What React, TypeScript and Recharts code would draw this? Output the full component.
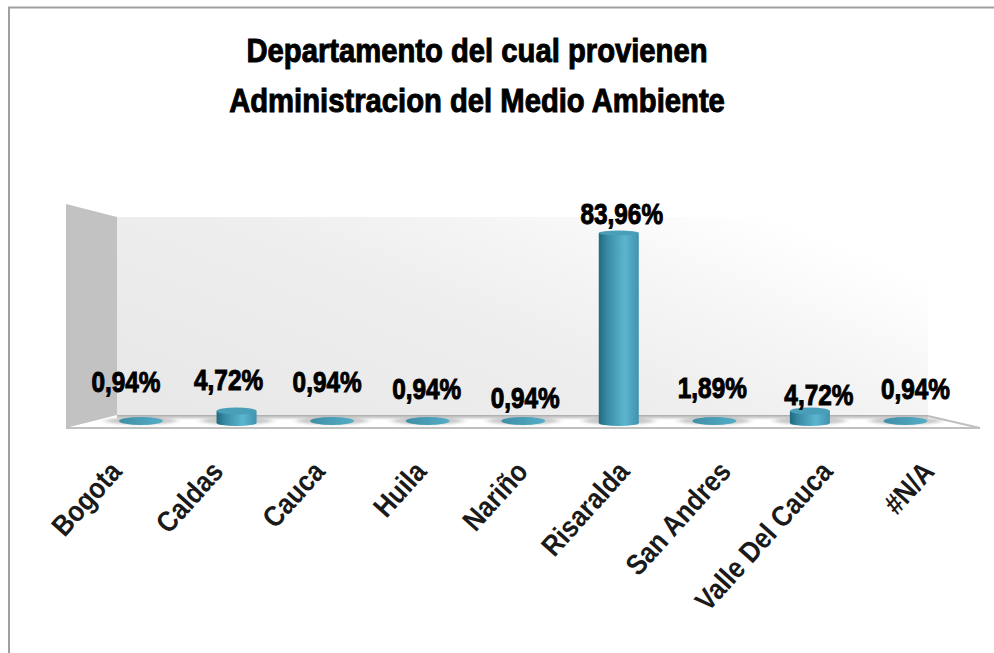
import { Bar, BarChart, LabelList, XAxis, YAxis } from 'recharts'

const departments = ['Bogota', 'Caldas', 'Cauca', 'Huila', 'Nariño', 'Risaralda', 'San Andres', 'Valle Del Cauca', '#N/A']
const shares = [0.94, 4.72, 0.94, 0.94, 0.94, 83.96, 1.89, 4.72, 0.94]
const titleLines = ['Departamento del cual provienen', 'Administracion del Medio Ambiente']

const data = departments.map((name, i) => ({ name, value: shares[i] }))

// hand placed nudges for the labels, the 3d view scatters them around
const labelDx = [-15, -8, -5, -1, 2, 3, -2, 9, 10]
const labelDy = [-31, -24, -31, -24, -15, -7, -23, -9, -24]

const FONT = '"Liberation Sans", sans-serif'

function Cylinder(props: any) {
  const { x, y, width, height } = props
  const cx = x + width / 2
  const base = y + height
  const shadow = <ellipse cx={cx} cy={base - 4} rx={width / 2 + 16} ry={3.5} fill="#8a8a8a" opacity={0.45} filter="url(#soft)" />
  if (height < 5) {
    return (
      <g>
        {shadow}
        <ellipse cx={cx} cy={base - 4} rx={width / 2 + 2} ry={4} fill="url(#barTop)" />
      </g>
    )
  }
  // short drums sit lower in the view, so their lid shows more
  const lid = height < 30 ? y - 3 : y + 2
  const lidRy = height < 30 ? 3.5 : 2.5
  return (
    <g>
      {shadow}
      <ellipse cx={cx} cy={base - 2} rx={width / 2} ry={3} fill="url(#barSide)" />
      <rect x={x} y={lid} width={width} height={base - 2 - lid} fill="url(#barSide)" />
      <ellipse cx={cx} cy={lid} rx={width / 2} ry={lidRy} fill="#4a9fb8" />
    </g>
  )
}

function ValueLabel(props: any) {
  const { x, y, width, index, value } = props
  return (
    <text
      transform={`translate(${x + width / 2 + labelDx[index]},${y + labelDy[index]}) scale(0.84,1)`}
      textAnchor="middle"
      fontFamily={FONT}
      fontWeight="bold"
      fontSize={29}
      fill="#000"
      stroke="#000"
      strokeWidth={1}
    >
      {value.toFixed(2).replace('.', ',')}%
    </text>
  )
}

function AngledTick(props: any) {
  const { x, y, index, payload } = props
  // the labels fan out a bit wider than the bars
  const spread = -25 + 6 * index
  return (
    <text
      transform={`translate(${x + spread},${y + 33}) rotate(-48) scale(0.88,1)`}
      textAnchor="end"
      dominantBaseline="central"
      fontFamily={FONT}
      fontWeight="bold"
      fontSize={29}
      fill="#1a1a1a"
    >
      {payload.value}
    </text>
  )
}

export default function App() {
  return (
    <div style={{ position: 'absolute', left: 0, top: 0, width: 994, height: 653, background: '#fff', overflow: 'hidden' }}>
      <svg width={994} height={653} style={{ position: 'absolute', left: 0, top: 0 }}>
        <defs>
          <linearGradient id="wallBack" x1="0" y1="0.8" x2="1" y2="0.2">
            <stop offset="0%" stopColor="#e8e8e8" />
            <stop offset="45%" stopColor="#eeeeee" />
            <stop offset="65%" stopColor="#f4f4f4" />
            <stop offset="95%" stopColor="#ffffff" />
          </linearGradient>
          <linearGradient id="floorBand" x1="0" y1="0" x2="0" y2="1">
            <stop offset="0%" stopColor="#a8a8a8" />
            <stop offset="100%" stopColor="#ffffff" />
          </linearGradient>
        </defs>
        <path d="M9 653V7.500H994" fill="none" stroke="#a0a0a0" strokeWidth={2} />
        <polygon points="117,217 928,217 928,416 117,416" fill="url(#wallBack)" />
        <polygon points="66,204 117,217 117,416 66,428" fill="#c2c2c2" />
        <polygon points="66,428 117,415 928,415 978,428" fill="#ffffff" />
        <rect x={117} y={415} width={811} height={5} fill="url(#floorBand)" />
        <path d="M66 428H980L928 416" fill="none" stroke="#c0c0c0" strokeWidth={2} />
        {titleLines.map((line, i) => (
          <text
            key={line}
            transform={`translate(477,${62 + i * 50}) scale(0.86,1)`}
            textAnchor="middle"
            fontFamily={FONT}
            fontWeight="bold"
            fontSize={34}
            fill="#000"
            stroke="#000"
            strokeWidth={1}
          >
            {line}
          </text>
        ))}
      </svg>
      <div style={{ position: 'absolute', left: 0, top: 0 }}>
        <BarChart
          width={994}
          height={653}
          data={data}
          margin={{ left: 93, right: 41, top: 217, bottom: 0 }}
          barSize={40}
        >
          <defs>
            <linearGradient id="barSide" x1="0" y1="0" x2="1" y2="0">
              <stop offset="0%" stopColor="#1e6a80" />
              <stop offset="22%" stopColor="#3a8ca6" />
              <stop offset="65%" stopColor="#5cb5cf" />
              <stop offset="100%" stopColor="#3f93ad" />
            </linearGradient>
            <linearGradient id="barTop" x1="0" y1="0" x2="1" y2="0">
              <stop offset="0%" stopColor="#3f8ea6" />
              <stop offset="100%" stopColor="#54aec6" />
            </linearGradient>
            <filter id="soft" x="-20%" y="-100%" width="140%" height="300%">
              <feGaussianBlur stdDeviation="3 1" />
            </filter>
          </defs>
          <XAxis dataKey="name" axisLine={false} tickLine={false} interval={0} height={228} tick={<AngledTick />} />
          <YAxis hide domain={[0, 90]} />
          <Bar dataKey="value" isAnimationActive={false} shape={<Cylinder />}>
            <LabelList dataKey="value" content={<ValueLabel />} />
          </Bar>
        </BarChart>
      </div>
    </div>
  )
}
